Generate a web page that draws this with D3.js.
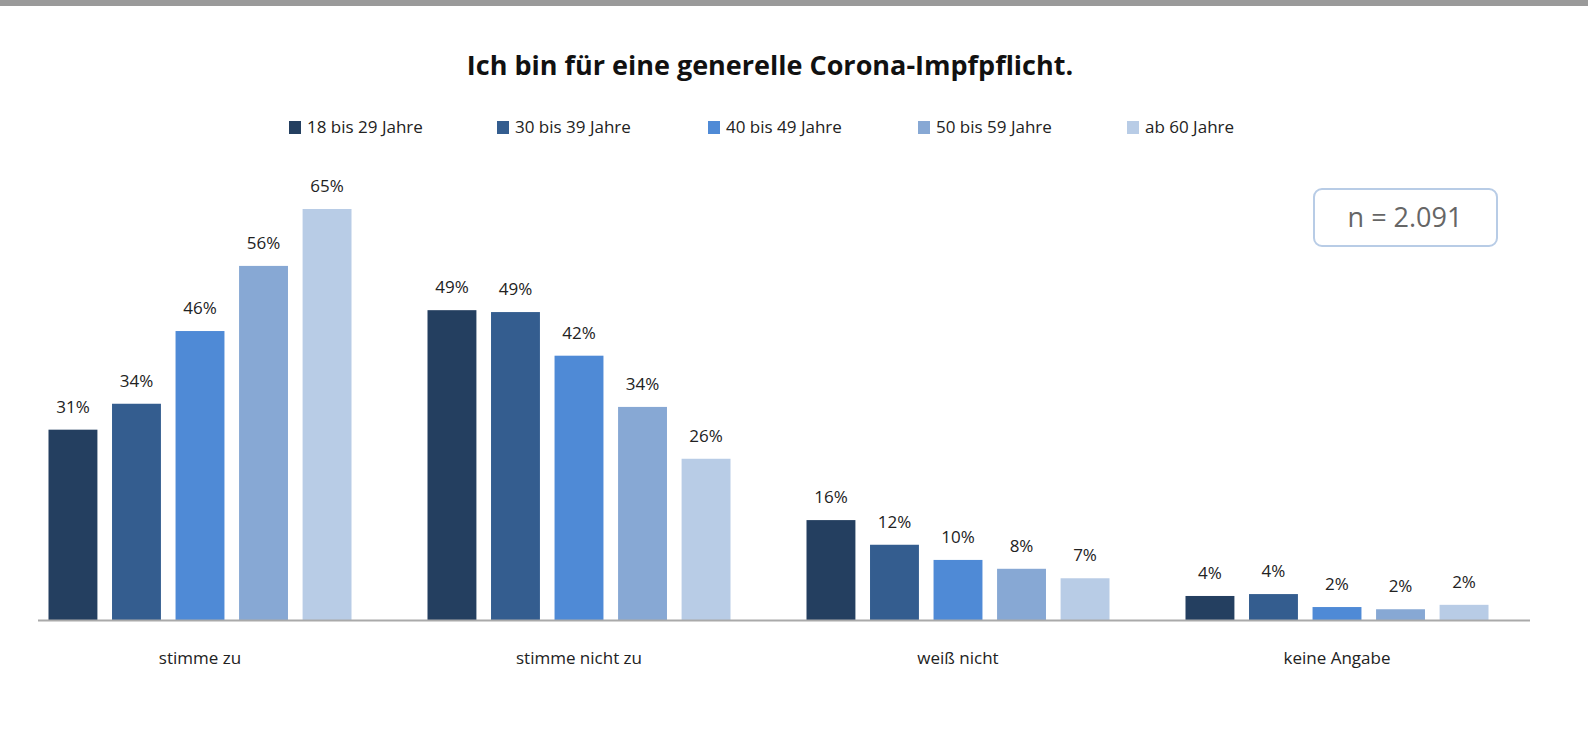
<!DOCTYPE html>
<html><head><meta charset="utf-8">
<script src="https://cdn.jsdelivr.net/npm/d3@7"></script>
<style>body{margin:0;background:#fff;}svg{display:block;font-family:"Open Sans","DejaVu Sans",sans-serif;}</style>
</head><body>
<svg id="chart" width="1588" height="746"></svg>
<script>
var categories = ["stimme zu", "stimme nicht zu", "weiß nicht", "keine Angabe"];
var series = ["18 bis 29 Jahre", "30 bis 39 Jahre", "40 bis 49 Jahre", "50 bis 59 Jahre", "ab 60 Jahre"];
var colors = ["#243f60", "#345d8f", "#4f8ad6", "#87a8d4", "#b8cce6"];
// values per age group (bar heights), labels as printed
var v18 = [30.1, 49.0, 15.8, 3.8];
var v30 = [34.2, 48.7, 11.9, 4.1];
var v40 = [45.7, 41.8, 9.5, 2.05];
var v50 = [56.0, 33.7, 8.1, 1.7];
var v60 = [65.0, 25.5, 6.6, 2.4];
var l18 = ["31%", "49%", "16%", "4%"];
var l30 = ["34%", "49%", "12%", "4%"];
var l40 = ["46%", "42%", "10%", "2%"];
var l50 = ["56%", "34%", "8%", "2%"];
var l60 = ["65%", "26%", "7%", "2%"];
var values = [v18, v30, v40, v50, v60];
var labels = [l18, l30, l40, l50, l60];

var svg = d3.select("#chart");
svg.append("rect").attr("x", 0).attr("y", 0).attr("width", 1588).attr("height", 6).attr("fill", "#9a9a9a");

var baseY = 620;
var y = d3.scaleLinear().domain([0, 65]).range([baseY, 209]);
var x0 = d3.scaleBand().domain(categories).range([10.5, 1526.5]);
var x1 = d3.scaleBand().domain(series).range([38, 341]).paddingInner(0.23).paddingOuter(0);

svg.append("text").attr("x", 770).attr("y", 75).attr("text-anchor", "middle")
  .attr("font-size", 27).attr("font-weight", "bold").attr("fill", "#111")
  .text("Ich bin für eine generelle Corona-Impfpflicht.");

// legend
var legX = [289, 497, 708, 918, 1127];
series.forEach(function(s, i) {
  var g = svg.append("g").attr("transform", "translate(" + legX[i] + ",121)");
  g.append("rect").attr("width", 12).attr("height", 13).attr("fill", colors[i]);
  g.append("text").attr("x", 18).attr("y", 12).attr("font-size", 17).attr("fill", "#222").text(s);
});

var groups = svg.selectAll("g.grp").data(categories).enter().append("g")
  .attr("transform", function(d) { return "translate(" + x0(d) + ",0)"; });

series.forEach(function(s, si) {
  groups.append("rect")
    .attr("x", x1(s)).attr("width", x1.bandwidth())
    .attr("y", function(d, ci) { return y(values[si][ci]); })
    .attr("height", function(d, ci) { return baseY - y(values[si][ci]); })
    .attr("fill", colors[si]);
  groups.append("text")
    .attr("x", x1(s) + x1.bandwidth() / 2)
    .attr("y", function(d, ci) { return y(values[si][ci]) - 17; })
    .attr("text-anchor", "middle").attr("font-size", 17).attr("fill", "#222")
    .text(function(d, ci) { return labels[si][ci]; });
});

svg.append("line").attr("x1", 38).attr("x2", 1530).attr("y1", baseY + 0.5).attr("y2", baseY + 0.5)
  .attr("stroke", "#aaa").attr("stroke-width", 2);

groups.append("text").attr("x", x1.range()[0] + (x1.range()[1] - x1.range()[0]) / 2).attr("y", 664)
  .attr("text-anchor", "middle").attr("font-size", 17).attr("fill", "#222").text(function(d) { return d; });

// n box
svg.append("rect").attr("x", 1314).attr("y", 189).attr("width", 183).attr("height", 57).attr("rx", 8)
  .attr("fill", "#fff").attr("stroke", "#b8cce6").attr("stroke-width", 2);
svg.append("text").attr("x", 1405).attr("y", 227).attr("text-anchor", "middle")
  .attr("font-size", 27).attr("fill", "#666").text("n = 2.091");
</script>
</body></html>
